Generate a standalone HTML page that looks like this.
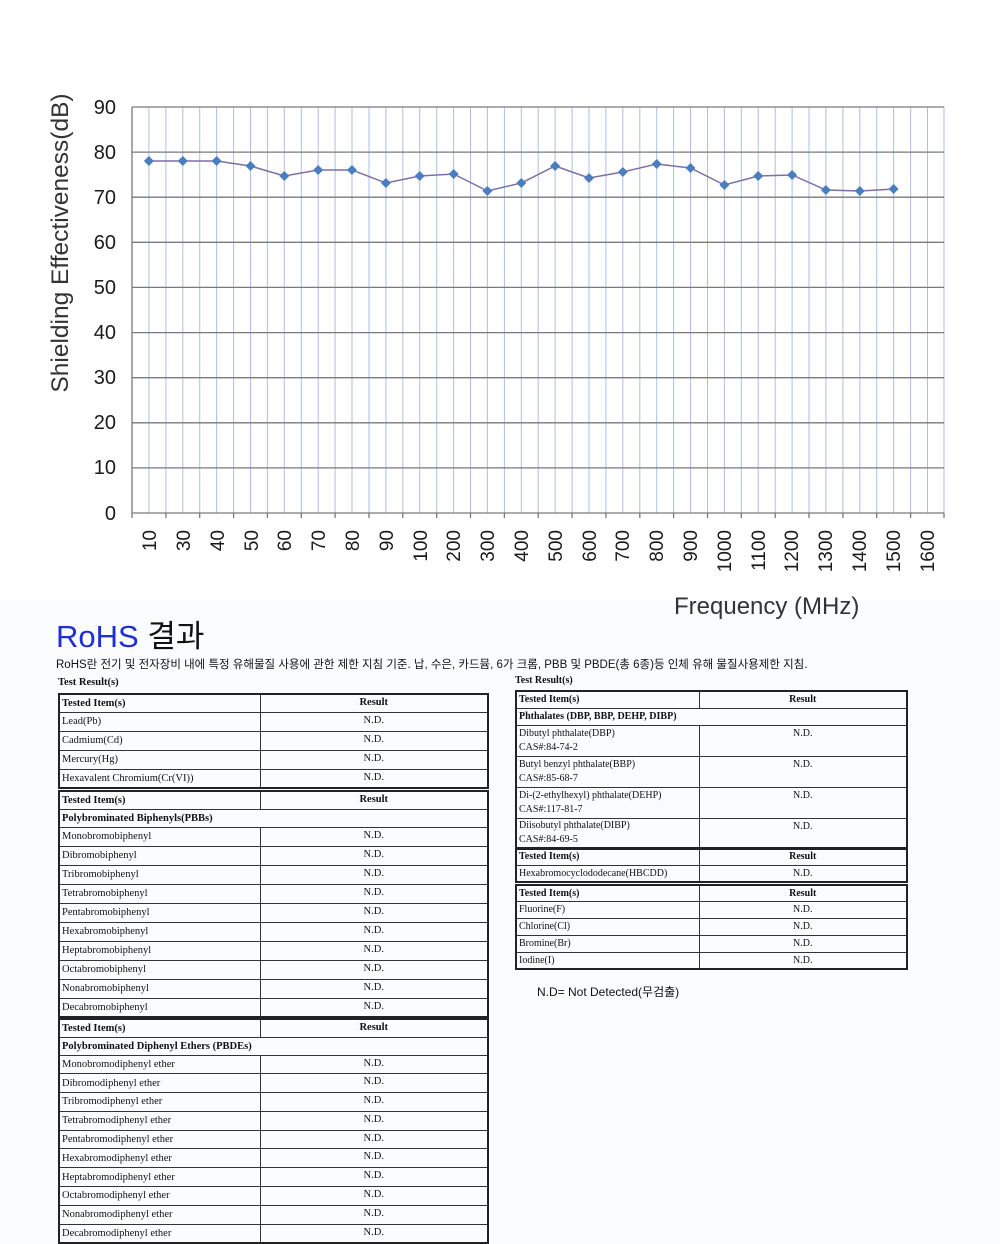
<!DOCTYPE html>
<html><head><meta charset="utf-8"><style>
body{margin:0;width:1000px;height:1244px;background:#fbfcfe;position:relative;overflow:hidden;font-family:"Liberation Serif",serif}
.t{position:absolute;border-collapse:collapse;table-layout:fixed;border:2px solid #222;font-size:10.5px;color:#111}
.t td{border:1px solid #333;padding:0 2px;vertical-align:middle;white-space:nowrap;overflow:hidden;line-height:11px}
.t td.r{text-align:center;vertical-align:top;padding-top:2px}
.t tr.h td{font-weight:bold}
.t td.g{font-weight:bold;border-right:none}
.lbl{position:absolute;font-weight:bold;font-size:10.5px;color:#111}
.k{font-family:"Liberation Sans","Noto Sans CJK KR",sans-serif}
</style></head><body>
<div style="position:absolute;left:0;top:0;width:1000px;height:600px;background:#fff"></div>
<svg style="position:absolute;left:0;top:0" width="1000" height="620">
<g stroke="#a9c2e4" stroke-width="1">
<line x1="148.9" y1="107" x2="148.9" y2="513"/><line x1="165.9" y1="107" x2="165.9" y2="513"/><line x1="182.8" y1="107" x2="182.8" y2="513"/><line x1="199.7" y1="107" x2="199.7" y2="513"/><line x1="216.6" y1="107" x2="216.6" y2="513"/><line x1="233.6" y1="107" x2="233.6" y2="513"/><line x1="250.5" y1="107" x2="250.5" y2="513"/><line x1="267.4" y1="107" x2="267.4" y2="513"/><line x1="284.3" y1="107" x2="284.3" y2="513"/><line x1="301.3" y1="107" x2="301.3" y2="513"/><line x1="318.2" y1="107" x2="318.2" y2="513"/><line x1="335.1" y1="107" x2="335.1" y2="513"/><line x1="352" y1="107" x2="352" y2="513"/><line x1="369" y1="107" x2="369" y2="513"/><line x1="385.9" y1="107" x2="385.9" y2="513"/><line x1="402.8" y1="107" x2="402.8" y2="513"/><line x1="419.7" y1="107" x2="419.7" y2="513"/><line x1="436.7" y1="107" x2="436.7" y2="513"/><line x1="453.6" y1="107" x2="453.6" y2="513"/><line x1="470.5" y1="107" x2="470.5" y2="513"/><line x1="487.4" y1="107" x2="487.4" y2="513"/><line x1="504.4" y1="107" x2="504.4" y2="513"/><line x1="521.3" y1="107" x2="521.3" y2="513"/><line x1="538.2" y1="107" x2="538.2" y2="513"/><line x1="555.1" y1="107" x2="555.1" y2="513"/><line x1="572.1" y1="107" x2="572.1" y2="513"/><line x1="589" y1="107" x2="589" y2="513"/><line x1="605.9" y1="107" x2="605.9" y2="513"/><line x1="622.8" y1="107" x2="622.8" y2="513"/><line x1="639.8" y1="107" x2="639.8" y2="513"/><line x1="656.7" y1="107" x2="656.7" y2="513"/><line x1="673.6" y1="107" x2="673.6" y2="513"/><line x1="690.5" y1="107" x2="690.5" y2="513"/><line x1="707.5" y1="107" x2="707.5" y2="513"/><line x1="724.4" y1="107" x2="724.4" y2="513"/><line x1="741.3" y1="107" x2="741.3" y2="513"/><line x1="758.2" y1="107" x2="758.2" y2="513"/><line x1="775.2" y1="107" x2="775.2" y2="513"/><line x1="792.1" y1="107" x2="792.1" y2="513"/><line x1="809" y1="107" x2="809" y2="513"/><line x1="825.9" y1="107" x2="825.9" y2="513"/><line x1="842.9" y1="107" x2="842.9" y2="513"/><line x1="859.8" y1="107" x2="859.8" y2="513"/><line x1="876.7" y1="107" x2="876.7" y2="513"/><line x1="893.6" y1="107" x2="893.6" y2="513"/><line x1="910.6" y1="107" x2="910.6" y2="513"/><line x1="927.5" y1="107" x2="927.5" y2="513"/><line x1="944" y1="107" x2="944" y2="513"/>
</g>
<g stroke="#7a7a7a" stroke-width="1.3">
<line x1="132" y1="107" x2="944" y2="107"/><line x1="132" y1="152.1" x2="944" y2="152.1"/><line x1="132" y1="197.2" x2="944" y2="197.2"/><line x1="132" y1="242.3" x2="944" y2="242.3"/><line x1="132" y1="287.4" x2="944" y2="287.4"/><line x1="132" y1="332.6" x2="944" y2="332.6"/><line x1="132" y1="377.7" x2="944" y2="377.7"/><line x1="132" y1="422.8" x2="944" y2="422.8"/><line x1="132" y1="467.9" x2="944" y2="467.9"/><line x1="132" y1="513" x2="944" y2="513"/>
<line x1="132" y1="107" x2="132" y2="518"/>
<line x1="165.9" y1="513" x2="165.9" y2="518"/><line x1="199.7" y1="513" x2="199.7" y2="518"/><line x1="233.6" y1="513" x2="233.6" y2="518"/><line x1="267.4" y1="513" x2="267.4" y2="518"/><line x1="301.3" y1="513" x2="301.3" y2="518"/><line x1="335.1" y1="513" x2="335.1" y2="518"/><line x1="369" y1="513" x2="369" y2="518"/><line x1="402.8" y1="513" x2="402.8" y2="518"/><line x1="436.7" y1="513" x2="436.7" y2="518"/><line x1="470.5" y1="513" x2="470.5" y2="518"/><line x1="504.4" y1="513" x2="504.4" y2="518"/><line x1="538.2" y1="513" x2="538.2" y2="518"/><line x1="572.1" y1="513" x2="572.1" y2="518"/><line x1="605.9" y1="513" x2="605.9" y2="518"/><line x1="639.8" y1="513" x2="639.8" y2="518"/><line x1="673.6" y1="513" x2="673.6" y2="518"/><line x1="707.5" y1="513" x2="707.5" y2="518"/><line x1="741.3" y1="513" x2="741.3" y2="518"/><line x1="775.2" y1="513" x2="775.2" y2="518"/><line x1="809" y1="513" x2="809" y2="518"/><line x1="842.9" y1="513" x2="842.9" y2="518"/><line x1="876.7" y1="513" x2="876.7" y2="518"/><line x1="910.6" y1="513" x2="910.6" y2="518"/><line x1="944" y1="513" x2="944" y2="518"/>
</g>
<polyline fill="none" stroke="#7d6fa6" stroke-width="1.5" points="148.9,161 182.8,161 216.6,161 250.5,166 284.3,176 318.2,170 352,170 385.9,183 419.7,176 453.6,174 487.4,191 521.3,183 555.1,166 589,178 622.8,172 656.7,164 690.5,168 724.4,185 758.2,176 792.1,175 825.9,190 859.8,191 893.6,189"/>
<g fill="#4a7ec0">
<path d="M148.9,156l5,5l-5,5l-5,-5z"/><path d="M182.8,156l5,5l-5,5l-5,-5z"/><path d="M216.6,156l5,5l-5,5l-5,-5z"/><path d="M250.5,161l5,5l-5,5l-5,-5z"/><path d="M284.3,171l5,5l-5,5l-5,-5z"/><path d="M318.2,165l5,5l-5,5l-5,-5z"/><path d="M352,165l5,5l-5,5l-5,-5z"/><path d="M385.9,178l5,5l-5,5l-5,-5z"/><path d="M419.7,171l5,5l-5,5l-5,-5z"/><path d="M453.6,169l5,5l-5,5l-5,-5z"/><path d="M487.4,186l5,5l-5,5l-5,-5z"/><path d="M521.3,178l5,5l-5,5l-5,-5z"/><path d="M555.1,161l5,5l-5,5l-5,-5z"/><path d="M589,173l5,5l-5,5l-5,-5z"/><path d="M622.8,167l5,5l-5,5l-5,-5z"/><path d="M656.7,159l5,5l-5,5l-5,-5z"/><path d="M690.5,163l5,5l-5,5l-5,-5z"/><path d="M724.4,180l5,5l-5,5l-5,-5z"/><path d="M758.2,171l5,5l-5,5l-5,-5z"/><path d="M792.1,170l5,5l-5,5l-5,-5z"/><path d="M825.9,185l5,5l-5,5l-5,-5z"/><path d="M859.8,186l5,5l-5,5l-5,-5z"/><path d="M893.6,184l5,5l-5,5l-5,-5z"/>
</g>
<g font-family="Liberation Sans, sans-serif" font-size="20" fill="#1a1a1a" text-anchor="end">
<text x="116" y="114">90</text><text x="116" y="159">80</text><text x="116" y="204">70</text><text x="116" y="249">60</text><text x="116" y="294">50</text><text x="116" y="339">40</text><text x="116" y="384">30</text><text x="116" y="429">20</text><text x="116" y="474">10</text><text x="116" y="520">0</text>
</g>
<text transform="translate(68,243) rotate(-90)" text-anchor="middle" font-family="Liberation Sans, sans-serif" font-size="24.5" fill="#333">Shielding Effectiveness(dB)</text>
<g font-family="Liberation Sans, sans-serif" font-size="19" fill="#1a1a1a" text-anchor="end">
<text transform="translate(156,530) rotate(-90)">10</text><text transform="translate(190,530) rotate(-90)">30</text><text transform="translate(224,530) rotate(-90)">40</text><text transform="translate(258,530) rotate(-90)">50</text><text transform="translate(291,530) rotate(-90)">60</text><text transform="translate(325,530) rotate(-90)">70</text><text transform="translate(359,530) rotate(-90)">80</text><text transform="translate(393,530) rotate(-90)">90</text><text transform="translate(427,530) rotate(-90)">100</text><text transform="translate(460,530) rotate(-90)">200</text><text transform="translate(494,530) rotate(-90)">300</text><text transform="translate(528,530) rotate(-90)">400</text><text transform="translate(562,530) rotate(-90)">500</text><text transform="translate(596,530) rotate(-90)">600</text><text transform="translate(629,530) rotate(-90)">700</text><text transform="translate(663,530) rotate(-90)">800</text><text transform="translate(697,530) rotate(-90)">900</text><text transform="translate(731,530) rotate(-90)">1000</text><text transform="translate(765,530) rotate(-90)">1100</text><text transform="translate(798,530) rotate(-90)">1200</text><text transform="translate(832,530) rotate(-90)">1300</text><text transform="translate(866,530) rotate(-90)">1400</text><text transform="translate(900,530) rotate(-90)">1500</text><text transform="translate(934,530) rotate(-90)">1600</text>
</g>
<text x="674" y="614" font-family="Liberation Sans, sans-serif" font-size="24" fill="#333">Frequency (MHz)</text>
</svg>

<div class="k" style="position:absolute;left:56px;top:619px;font-size:31px;line-height:36px;white-space:nowrap"><span style="color:#1f2ed6">RoHS</span> <span style="color:#111">결과</span></div>
<div class="k" style="position:absolute;left:56px;top:656px;font-size:11.5px;color:#111;white-space:nowrap">RoHS란 전기 및 전자장비 내에 특정 유해물질 사용에 관한 제한 지침 기준. 납, 수은, 카드뮴, 6가 크롬, PBB 및 PBDE(총 6종)등 인체 유해 물질사용제한 지침.</div>

<div class="lbl" style="left:58px;top:677px">Test Result(s)</div>
<table class="t" style="left:58px;top:693px;width:431px">
<col style="width:201px"><col>
<tr class="h" style="height:18px"><td>Tested Item(s)</td><td class="r">Result</td></tr>
<tr style="height:19px"><td>Lead(Pb)</td><td class="r">N.D.</td></tr>
<tr style="height:19px"><td>Cadmium(Cd)</td><td class="r">N.D.</td></tr>
<tr style="height:19px"><td>Mercury(Hg)</td><td class="r">N.D.</td></tr>
<tr style="height:19px"><td>Hexavalent Chromium(Cr(VI))</td><td class="r">N.D.</td></tr>
</table>
<table class="t" style="left:58px;top:790px;width:431px">
<col style="width:201px"><col>
<tr class="h" style="height:18px"><td>Tested Item(s)</td><td class="r">Result</td></tr>
<tr style="height:18px"><td class="g" colspan="2">Polybrominated Biphenyls(PBBs)</td></tr>
<tr style="height:19px"><td>Monobromobiphenyl</td><td class="r">N.D.</td></tr>
<tr style="height:19px"><td>Dibromobiphenyl</td><td class="r">N.D.</td></tr>
<tr style="height:19px"><td>Tribromobiphenyl</td><td class="r">N.D.</td></tr>
<tr style="height:19px"><td>Tetrabromobiphenyl</td><td class="r">N.D.</td></tr>
<tr style="height:19px"><td>Pentabromobiphenyl</td><td class="r">N.D.</td></tr>
<tr style="height:19px"><td>Hexabromobiphenyl</td><td class="r">N.D.</td></tr>
<tr style="height:19px"><td>Heptabromobiphenyl</td><td class="r">N.D.</td></tr>
<tr style="height:19px"><td>Octabromobiphenyl</td><td class="r">N.D.</td></tr>
<tr style="height:19px"><td>Nonabromobiphenyl</td><td class="r">N.D.</td></tr>
<tr style="height:19px"><td>Decabromobiphenyl</td><td class="r">N.D.</td></tr>
</table>
<table class="t" style="left:58px;top:1018px;width:431px">
<col style="width:201px"><col>
<tr class="h" style="height:18px"><td>Tested Item(s)</td><td class="r">Result</td></tr>
<tr style="height:18px"><td class="g" colspan="2">Polybrominated Diphenyl Ethers (PBDEs)</td></tr>
<tr style="height:18.8px"><td>Monobromodiphenyl ether</td><td class="r">N.D.</td></tr>
<tr style="height:18.8px"><td>Dibromodiphenyl ether</td><td class="r">N.D.</td></tr>
<tr style="height:18.8px"><td>Tribromodiphenyl ether</td><td class="r">N.D.</td></tr>
<tr style="height:18.8px"><td>Tetrabromodiphenyl ether</td><td class="r">N.D.</td></tr>
<tr style="height:18.8px"><td>Pentabromodiphenyl ether</td><td class="r">N.D.</td></tr>
<tr style="height:18.8px"><td>Hexabromodiphenyl ether</td><td class="r">N.D.</td></tr>
<tr style="height:18.8px"><td>Heptabromodiphenyl ether</td><td class="r">N.D.</td></tr>
<tr style="height:18.8px"><td>Octabromodiphenyl ether</td><td class="r">N.D.</td></tr>
<tr style="height:18.8px"><td>Nonabromodiphenyl ether</td><td class="r">N.D.</td></tr>
<tr style="height:18.8px"><td>Decabromodiphenyl ether</td><td class="r">N.D.</td></tr>
</table>

<div class="lbl" style="left:515px;top:675px;font-size:10px">Test Result(s)</div>
<table class="t" style="left:515px;top:690px;width:393px;font-size:10px">
<col style="width:183px"><col>
<tr class="h" style="height:17px"><td>Tested Item(s)</td><td class="r">Result</td></tr>
<tr style="height:17px"><td class="g" colspan="2">Phthalates (DBP, BBP, DEHP, DIBP)</td></tr>
<tr style="height:31px"><td style="line-height:14px">Dibutyl phthalate(DBP)<br>CAS#:84-74-2</td><td class="r">N.D.</td></tr>
<tr style="height:31px"><td style="line-height:14px">Butyl benzyl phthalate(BBP)<br>CAS#:85-68-7</td><td class="r">N.D.</td></tr>
<tr style="height:31px"><td style="line-height:14px">Di-(2-ethylhexyl) phthalate(DEHP)<br>CAS#:117-81-7</td><td class="r">N.D.</td></tr>
<tr style="height:31px"><td style="line-height:14px">Diisobutyl phthalate(DIBP)<br>CAS#:84-69-5</td><td class="r">N.D.</td></tr>
</table>
<table class="t" style="left:515px;top:847px;width:393px;font-size:10px">
<col style="width:183px"><col>
<tr class="h" style="height:17px"><td>Tested Item(s)</td><td class="r">Result</td></tr>
<tr style="height:17px"><td>Hexabromocyclododecane(HBCDD)</td><td class="r">N.D.</td></tr>
</table>
<table class="t" style="left:515px;top:884px;width:393px;font-size:10px">
<col style="width:183px"><col>
<tr class="h" style="height:16px"><td>Tested Item(s)</td><td class="r">Result</td></tr>
<tr style="height:17px"><td>Fluorine(F)</td><td class="r">N.D.</td></tr>
<tr style="height:17px"><td>Chlorine(Cl)</td><td class="r">N.D.</td></tr>
<tr style="height:17px"><td>Bromine(Br)</td><td class="r">N.D.</td></tr>
<tr style="height:17px"><td>Iodine(I)</td><td class="r">N.D.</td></tr>
</table>
<div class="k" style="position:absolute;left:537px;top:983px;font-size:12px;color:#111;white-space:nowrap">N.D= Not Detected(무검출)</div>
</body></html>
